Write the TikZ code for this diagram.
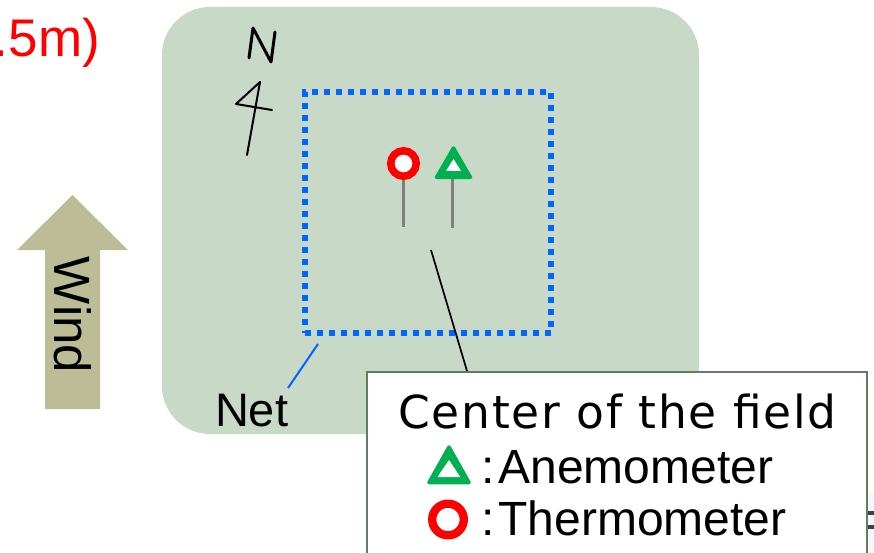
\documentclass[tikz,border=0pt]{standalone}
\usepackage{fontspec}
\setmainfont{Liberation Sans}
\newfontfamily\titlefont[LetterSpace=4]{DejaVu Sans}
\definecolor{fieldgreen}{HTML}{C8D9C8}
\definecolor{netblue}{HTML}{0066FF}
\definecolor{boxgreen}{HTML}{5F7F5F}
\definecolor{windfill}{HTML}{BCBD96}
\definecolor{markgreen}{HTML}{00B050}
\definecolor{paleback}{HTML}{F6F8FB}
\tikzset{
  lbl/.style={inner sep=0pt,outer sep=0pt,text=black,anchor=base west},
  sketch/.style={line width=2pt,black,line cap=round,line join=round},
  pole/.style={line width=3pt,draw=gray},
  thermo/.style={draw=red,fill=white,line width=7.5pt},
  anemo/.style={draw=markgreen,fill=markgreen,line width=3.5pt,line join=round},
}
\begin{document}
\begin{tikzpicture}[x=1pt,y=-1pt]
\useasboundingbox (0,0) rectangle (874,553);
% field
\fill[fieldgreen,rounded corners=48pt] (162,7) rectangle (699,434);
% wind arrow
\fill[windfill] (72.5,195) -- (128,250) -- (100,250) -- (100,409) -- (45,409) -- (45,250) -- (17,250) -- cycle;
\node[lbl,anchor=center,rotate=-90,font=\fontsize{51}{51}\selectfont] (wind) at (73,315) {Wind};
% cropped red text
\node[lbl,anchor=base east,text=red,font=\fontsize{53}{53}\selectfont] (height) at (100,57) {.5m)};
% north sign
\draw[sketch,line width=3pt] (249,58) -- (253,28) -- (271,62) -- (275,32);
\draw[sketch] (247,155) -- (260,82) -- (236,104) -- (272,110);
% net
\node[draw=netblue,line width=6pt,dash pattern=on 6pt off 6pt,minimum width=246pt,minimum height=241pt,inner sep=0pt,outer sep=0pt] (netbox) at (428,212.5) {};
\coordinate (netend) at (318,344);
\node[lbl,font=\fontsize{47}{47}\selectfont] (netlabel) at (215,426) {Net};
\coordinate (netstart) at (288,388);
\draw[netblue,line width=2pt] (netstart) -- (netend);
% instruments
\draw[pole] (403.5,178) -- (403.5,227);
\draw[pole] (452.5,178) -- (452.5,228);
\node[circle,thermo,minimum size=25.5pt,inner sep=0pt] (thermometer) at (403.5,163.5) {};
\path[anemo] (453.5,148) -- (470.5,177.3) -- (436.5,177.3) -- cycle;
\fill[white] (453.5,159) -- (461,171) -- (446,171) -- cycle;
% fragment at the right edge
\fill[paleback] (868,492) rectangle (874,553);
\fill[black!75] (868,511) rectangle (874,515);
\fill[black!75] (868,525) rectangle (874,529);
% legend box
\node[draw=boxgreen,fill=white,line width=2pt,minimum width=500pt,minimum height=200pt,anchor=north west,inner sep=0pt,outer sep=0pt] (legend) at (367,372) {};
\coordinate (centerpt) at (431,250);
\draw[black,line width=1.7pt] (centerpt) -- (467,371);
\node[lbl,font=\titlefont\fontsize{45.5}{45.5}\selectfont] (title) at (398,428) {Center of the field};
\path[anemo] (449,447) -- (469,482.5) -- (429,482.5) -- cycle;
\fill[white] (449,460) -- (460.3,477) -- (437.5,477) -- cycle;
\node[lbl,font=\fontsize{48}{48}\selectfont] (anemolabel) at (481,483) {:\kern4pt Anemometer};
\node[circle,draw=red,fill=white,line width=8.3pt,minimum size=31.6pt,inner sep=0pt] (thermolegend) at (448,519.5) {};
\node[lbl,font=\fontsize{48}{48}\selectfont] (thermolabel) at (481,535) {:\kern4pt Thermometer};
\end{tikzpicture}
\end{document}
